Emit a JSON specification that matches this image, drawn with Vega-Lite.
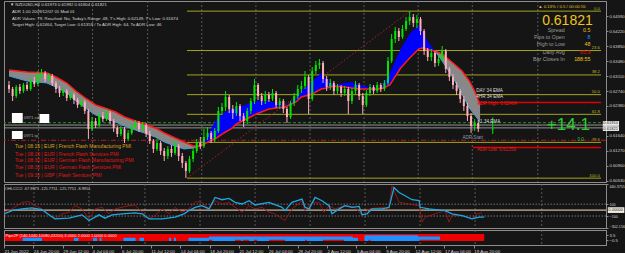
{
"$schema": "https://vega.github.io/schema/vega-lite/v6.json",
"background": "#151515",
"padding": {"left": 2, "top": 0, "right": 0, "bottom": 0},
"spacing": 2,
"bounds": "flush",
"config": {
 "view": {"stroke": "#8c8c8c", "strokeWidth": 1},
 "font": "Liberation Sans",
 "axis": {"grid": false, "labelFont": "Liberation Sans", "labelColor": "#d4d4d4", "labelFontSize": 4.2, "domainColor": "#8c8c8c", "tickColor": "#8c8c8c", "tickSize": 2, "labelPadding": 1, "labelOverlap": false},
 "text": {"font": "Liberation Sans"}
},
"datasets": {
 "g": [{"i":16.3},{"i":46.3},{"i":76.8},{"i":106.8},{"i":136.8},{"i":166.8},{"i":196.7},{"i":226.7},{"i":256.7},{"i":293}],
 "c": [
{"i":0,"o":0.62898,"h":0.62997,"l":0.62701,"c":0.62799},
{"i":2,"o":0.62799,"h":0.62849,"l":0.62503,"c":0.62627},
{"i":4,"o":0.62627,"h":0.62898,"l":0.62577,"c":0.62849},
{"i":6,"o":0.62849,"h":0.62923,"l":0.62676,"c":0.62750},
{"i":8,"o":0.62750,"h":0.62947,"l":0.62701,"c":0.62898},
{"i":10,"o":0.62898,"h":0.62972,"l":0.62750,"c":0.62799},
{"i":12,"o":0.62799,"h":0.63071,"l":0.62750,"c":0.62997},
{"i":14,"o":0.62997,"h":0.63095,"l":0.62849,"c":0.62923},
{"i":16,"o":0.62923,"h":0.63243,"l":0.62873,"c":0.63145},
{"i":18,"o":0.63145,"h":0.63293,"l":0.63071,"c":0.63194},
{"i":20,"o":0.63194,"h":0.63243,"l":0.62972,"c":0.63046},
{"i":22,"o":0.63046,"h":0.63194,"l":0.62997,"c":0.63120},
{"i":24,"o":0.63120,"h":0.63169,"l":0.62873,"c":0.62947},
{"i":26,"o":0.62947,"h":0.62997,"l":0.62701,"c":0.62799},
{"i":28,"o":0.62799,"h":0.62873,"l":0.62602,"c":0.62701},
{"i":30,"o":0.62701,"h":0.62824,"l":0.62627,"c":0.62750},
{"i":32,"o":0.62750,"h":0.62799,"l":0.62503,"c":0.62577},
{"i":34,"o":0.62577,"h":0.62725,"l":0.62528,"c":0.62651},
{"i":36,"o":0.62651,"h":0.62701,"l":0.62429,"c":0.62528},
{"i":38,"o":0.62528,"h":0.62577,"l":0.62331,"c":0.62405},
{"i":40,"o":0.62405,"h":0.62553,"l":0.62355,"c":0.62479},
{"i":42,"o":0.62479,"h":0.62528,"l":0.62183,"c":0.62257},
{"i":44,"o":0.62257,"h":0.62306,"l":0.61566,"c":0.61813},
{"i":46,"o":0.61813,"h":0.62109,"l":0.61763,"c":0.62010},
{"i":48,"o":0.62010,"h":0.62084,"l":0.61837,"c":0.61911},
{"i":50,"o":0.61911,"h":0.62207,"l":0.61862,"c":0.62133},
{"i":52,"o":0.62133,"h":0.62232,"l":0.61985,"c":0.62059},
{"i":54,"o":0.62059,"h":0.62306,"l":0.62010,"c":0.62207},
{"i":56,"o":0.62207,"h":0.62257,"l":0.61936,"c":0.62010},
{"i":58,"o":0.62010,"h":0.62059,"l":0.61739,"c":0.61837},
{"i":60,"o":0.61837,"h":0.61887,"l":0.61615,"c":0.61689},
{"i":62,"o":0.61689,"h":0.61887,"l":0.61640,"c":0.61813},
{"i":64,"o":0.61813,"h":0.61862,"l":0.61467,"c":0.61566},
{"i":66,"o":0.61566,"h":0.61788,"l":0.61517,"c":0.61714},
{"i":68,"o":0.61714,"h":0.61936,"l":0.61665,"c":0.61862},
{"i":70,"o":0.61862,"h":0.62035,"l":0.61813,"c":0.61961},
{"i":72,"o":0.61961,"h":0.62010,"l":0.61739,"c":0.61813},
{"i":74,"o":0.61813,"h":0.61985,"l":0.61763,"c":0.61911},
{"i":76,"o":0.61911,"h":0.61961,"l":0.61615,"c":0.61689},
{"i":78,"o":0.61689,"h":0.61763,"l":0.61443,"c":0.61517},
{"i":80,"o":0.61517,"h":0.61566,"l":0.61221,"c":0.61319},
{"i":82,"o":0.61319,"h":0.61566,"l":0.61270,"c":0.61467},
{"i":84,"o":0.61467,"h":0.61517,"l":0.61171,"c":0.61270},
{"i":86,"o":0.61270,"h":0.61344,"l":0.61023,"c":0.61147},
{"i":88,"o":0.61147,"h":0.61393,"l":0.61073,"c":0.61319},
{"i":90,"o":0.61319,"h":0.61418,"l":0.61122,"c":0.61221},
{"i":92,"o":0.61221,"h":0.61517,"l":0.61171,"c":0.61393},
{"i":94,"o":0.61393,"h":0.61443,"l":0.61023,"c":0.61147},
{"i":96,"o":0.61147,"h":0.61221,"l":0.60851,"c":0.60974},
{"i":98,"o":0.60974,"h":0.61023,"l":0.60604,"c":0.60777},
{"i":100,"o":0.60777,"h":0.61147,"l":0.60727,"c":0.61073},
{"i":102,"o":0.61073,"h":0.61344,"l":0.60999,"c":0.61270},
{"i":104,"o":0.61270,"h":0.61566,"l":0.61221,"c":0.61467},
{"i":106,"o":0.61467,"h":0.61615,"l":0.61319,"c":0.61393},
{"i":108,"o":0.61393,"h":0.61813,"l":0.61344,"c":0.61615},
{"i":110,"o":0.61615,"h":0.61862,"l":0.61541,"c":0.61714},
{"i":112,"o":0.61714,"h":0.61763,"l":0.61467,"c":0.61566},
{"i":114,"o":0.61566,"h":0.61837,"l":0.61492,"c":0.61763},
{"i":116,"o":0.61763,"h":0.62355,"l":0.61714,"c":0.62257},
{"i":118,"o":0.62257,"h":0.62454,"l":0.62158,"c":0.62355},
{"i":120,"o":0.62355,"h":0.62750,"l":0.62257,"c":0.62602},
{"i":122,"o":0.62602,"h":0.62651,"l":0.62207,"c":0.62306},
{"i":124,"o":0.62306,"h":0.62405,"l":0.62059,"c":0.62207},
{"i":126,"o":0.62207,"h":0.62479,"l":0.62133,"c":0.62380},
{"i":128,"o":0.62380,"h":0.62429,"l":0.62010,"c":0.62133},
{"i":130,"o":0.62133,"h":0.62207,"l":0.61862,"c":0.62010},
{"i":132,"o":0.62010,"h":0.62331,"l":0.61936,"c":0.62257},
{"i":134,"o":0.62257,"h":0.62577,"l":0.62183,"c":0.62503},
{"i":136,"o":0.62503,"h":0.63046,"l":0.62429,"c":0.62898},
{"i":138,"o":0.62898,"h":0.62947,"l":0.62528,"c":0.62627},
{"i":140,"o":0.62627,"h":0.62701,"l":0.62405,"c":0.62503},
{"i":142,"o":0.62503,"h":0.62750,"l":0.62429,"c":0.62651},
{"i":144,"o":0.62651,"h":0.62725,"l":0.62479,"c":0.62553},
{"i":146,"o":0.62553,"h":0.62799,"l":0.62503,"c":0.62701},
{"i":148,"o":0.62701,"h":0.62750,"l":0.62331,"c":0.62405},
{"i":150,"o":0.62405,"h":0.62577,"l":0.62306,"c":0.62503},
{"i":152,"o":0.62503,"h":0.62553,"l":0.62207,"c":0.62306},
{"i":154,"o":0.62306,"h":0.62355,"l":0.61961,"c":0.62109},
{"i":156,"o":0.62109,"h":0.62503,"l":0.62059,"c":0.62454},
{"i":158,"o":0.62454,"h":0.62701,"l":0.62380,"c":0.62627},
{"i":160,"o":0.62627,"h":0.62898,"l":0.62553,"c":0.62799},
{"i":162,"o":0.62799,"h":0.62997,"l":0.62701,"c":0.62873},
{"i":164,"o":0.62873,"h":0.63243,"l":0.62799,"c":0.63095},
{"i":166,"o":0.63095,"h":0.63145,"l":0.62183,"c":0.62553},
{"i":168,"o":0.62553,"h":0.63342,"l":0.62503,"c":0.63243},
{"i":170,"o":0.63243,"h":0.63490,"l":0.63169,"c":0.63391},
{"i":172,"o":0.63391,"h":0.63539,"l":0.63293,"c":0.63441},
{"i":174,"o":0.63441,"h":0.63490,"l":0.62947,"c":0.63046},
{"i":176,"o":0.63046,"h":0.63120,"l":0.62750,"c":0.62849},
{"i":178,"o":0.62849,"h":0.63046,"l":0.62775,"c":0.62947},
{"i":180,"o":0.62947,"h":0.62997,"l":0.62651,"c":0.62750},
{"i":182,"o":0.62750,"h":0.62923,"l":0.62676,"c":0.62849},
{"i":184,"o":0.62849,"h":0.62898,"l":0.62602,"c":0.62701},
{"i":186,"o":0.62701,"h":0.62873,"l":0.62627,"c":0.62799},
{"i":188,"o":0.62799,"h":0.62849,"l":0.62183,"c":0.62503},
{"i":190,"o":0.62503,"h":0.62824,"l":0.62429,"c":0.62750},
{"i":192,"o":0.62750,"h":0.62997,"l":0.62676,"c":0.62898},
{"i":194,"o":0.62898,"h":0.62947,"l":0.62528,"c":0.62627},
{"i":196,"o":0.62627,"h":0.62701,"l":0.62183,"c":0.62405},
{"i":198,"o":0.62405,"h":0.62775,"l":0.62355,"c":0.62701},
{"i":200,"o":0.62701,"h":0.62923,"l":0.62627,"c":0.62849},
{"i":202,"o":0.62849,"h":0.62898,"l":0.62676,"c":0.62750},
{"i":204,"o":0.62750,"h":0.62972,"l":0.62701,"c":0.62898},
{"i":206,"o":0.62898,"h":0.62947,"l":0.62725,"c":0.62799},
{"i":208,"o":0.62799,"h":0.63021,"l":0.62750,"c":0.62947},
{"i":210,"o":0.62947,"h":0.63589,"l":0.62898,"c":0.63490},
{"i":212,"o":0.63490,"h":0.64156,"l":0.63441,"c":0.64033},
{"i":214,"o":0.64033,"h":0.64329,"l":0.63934,"c":0.64230},
{"i":216,"o":0.64230,"h":0.64304,"l":0.63983,"c":0.64082},
{"i":218,"o":0.64082,"h":0.64378,"l":0.64033,"c":0.64279},
{"i":220,"o":0.64279,"h":0.64575,"l":0.64230,"c":0.64477},
{"i":222,"o":0.64477,"h":0.64723,"l":0.64378,"c":0.64575},
{"i":224,"o":0.64575,"h":0.64649,"l":0.64329,"c":0.64427},
{"i":226,"o":0.64427,"h":0.64625,"l":0.64304,"c":0.64526},
{"i":228,"o":0.64526,"h":0.64575,"l":0.64131,"c":0.64230},
{"i":230,"o":0.64230,"h":0.64279,"l":0.63638,"c":0.63737},
{"i":232,"o":0.63737,"h":0.63811,"l":0.63490,"c":0.63589},
{"i":234,"o":0.63589,"h":0.63786,"l":0.63490,"c":0.63687},
{"i":236,"o":0.63687,"h":0.63737,"l":0.63342,"c":0.63441},
{"i":238,"o":0.63441,"h":0.63613,"l":0.63367,"c":0.63539},
{"i":240,"o":0.63539,"h":0.63860,"l":0.63490,"c":0.63737},
{"i":242,"o":0.63737,"h":0.63786,"l":0.63194,"c":0.63293},
{"i":244,"o":0.63293,"h":0.63342,"l":0.62997,"c":0.63095},
{"i":246,"o":0.63095,"h":0.63169,"l":0.62799,"c":0.62898},
{"i":248,"o":0.62898,"h":0.62972,"l":0.62651,"c":0.62750},
{"i":250,"o":0.62750,"h":0.62799,"l":0.62454,"c":0.62553},
{"i":252,"o":0.62553,"h":0.62627,"l":0.62257,"c":0.62380},
{"i":254,"o":0.62380,"h":0.62454,"l":0.62010,"c":0.62133},
{"i":256,"o":0.62133,"h":0.62207,"l":0.61714,"c":0.61887},
{"i":258,"o":0.61887,"h":0.62059,"l":0.61763,"c":0.61961},
{"i":260,"o":0.61961,"h":0.62035,"l":0.61739,"c":0.61821},
{"i":268,"o":0.61800,"h":0.62100,"l":0.61689,"c":0.61821}
 ],
 "e": [
{"i":0,"r":0.63268,"b":0.63120,"s":"d1"},
{"i":10,"r":0.63219,"b":0.62997,"s":"d1"},
{"i":21,"r":0.63194,"b":0.62947,"s":"d1"},
{"i":26,"r":0.63095,"b":0.62849,"s":"d1"},
{"i":32,"r":0.62947,"b":0.62701,"s":"d1"},
{"i":37,"r":0.62750,"b":0.62503,"s":"d1"},
{"i":43,"r":0.62553,"b":0.62306,"s":"d1"},
{"i":48,"r":0.62405,"b":0.62158,"s":"d1"},
{"i":53,"r":0.62331,"b":0.62084,"s":"d1"},
{"i":59,"r":0.62232,"b":0.61985,"s":"d1"},
{"i":64,"r":0.62109,"b":0.61887,"s":"d1"},
{"i":70,"r":0.62010,"b":0.61788,"s":"d1"},
{"i":75,"r":0.61936,"b":0.61714,"s":"d1"},
{"i":81,"r":0.61837,"b":0.61615,"s":"d1"},
{"i":86,"r":0.61714,"b":0.61492,"s":"d1"},
{"i":92,"r":0.61591,"b":0.61393,"s":"d1"},
{"i":97,"r":0.61492,"b":0.61319,"s":"d1"},
{"i":102,"r":0.61393,"b":0.61344,"s":"d1"},
{"i":106,"r":0.61393,"b":0.61393,"s":"d1"},
{"i":106,"r":0.61393,"b":0.61393,"s":"u"},
{"i":108,"r":0.61443,"b":0.61492,"s":"u"},
{"i":115,"r":0.61591,"b":0.62059,"s":"u"},
{"i":119,"r":0.61714,"b":0.62207,"s":"u"},
{"i":123,"r":0.61813,"b":0.62306,"s":"u"},
{"i":126,"r":0.61936,"b":0.62331,"s":"u"},
{"i":137,"r":0.62183,"b":0.62503,"s":"u"},
{"i":144,"r":0.62306,"b":0.62503,"s":"u"},
{"i":148,"r":0.62331,"b":0.62454,"s":"u"},
{"i":153,"r":0.62355,"b":0.62380,"s":"u"},
{"i":159,"r":0.62479,"b":0.62577,"s":"u"},
{"i":162,"r":0.62602,"b":0.62750,"s":"u"},
{"i":168,"r":0.62676,"b":0.62997,"s":"u"},
{"i":173,"r":0.62799,"b":0.63194,"s":"u"},
{"i":176,"r":0.62824,"b":0.63046,"s":"u"},
{"i":180,"r":0.62873,"b":0.62898,"s":"u"},
{"i":186,"r":0.62849,"b":0.62947,"s":"u"},
{"i":190,"r":0.62824,"b":0.62972,"s":"u"},
{"i":194,"r":0.62799,"b":0.62898,"s":"u"},
{"i":200,"r":0.62799,"b":0.62849,"s":"u"},
{"i":206,"r":0.62799,"b":0.62824,"s":"u"},
{"i":211,"r":0.62898,"b":0.63194,"s":"u"},
{"i":217,"r":0.63317,"b":0.63786,"s":"u"},
{"i":222,"r":0.63564,"b":0.64156,"s":"u"},
{"i":227,"r":0.63786,"b":0.64378,"s":"u"},
{"i":229,"r":0.63811,"b":0.64230,"s":"u"},
{"i":233,"r":0.63761,"b":0.63909,"s":"u"},
{"i":236,"r":0.63737,"b":0.63737,"s":"u"},
{"i":236,"r":0.63737,"b":0.63737,"s":"d2"},
{"i":240,"r":0.63663,"b":0.63490,"s":"d2"},
{"i":246,"r":0.63441,"b":0.63071,"s":"d2"},
{"i":251,"r":0.63243,"b":0.62676,"s":"d2"},
{"i":255,"r":0.62997,"b":0.62331,"s":"d2"},
{"i":258,"r":0.62750,"b":0.62158,"s":"d2"},
{"i":261,"r":0.62405,"b":0.61985,"s":"d2"}
 ],
 "f": [
{"i0":98.6,"i1":328,"p":0.64720,"lv":"0.0"},
{"i0":98.6,"i1":328,"p":0.63748,"lv":"23.6"},
{"i0":98.6,"i1":328,"p":0.63146,"lv":"38.2"},
{"i0":98.6,"i1":328,"p":0.62660,"lv":"50.0"},
{"i0":98.6,"i1":328,"p":0.62174,"lv":"61.8"},
{"i0":98.6,"i1":328,"p":0.61482,"lv":"78.6"},
{"i0":98.6,"i1":328,"p":0.60600,"lv":"100.0"}
 ],
 "h": [
{"p":0.61910,"k":"gray"},{"p":0.61840,"k":"gray"},{"p":0.61968,"k":"gdash"},{"p":0.61534,"k":"rdash"}
 ],
 "a": [{"i0":257,"i1":328,"p":0.62464},{"i0":257,"i1":328,"p":0.61359}],
 "d": [{"i0":98.6,"p0":0.60604,"i1":222.3,"p1":0.64723}],
 "ob": [{"i0":1.6,"i1":7.6,"lo":0.61961,"hi":0.62207},{"i0":16.9,"i1":22.3,"lo":0.61961,"hi":0.62183},{"i0":1.6,"i1":7.6,"lo":0.61566,"hi":0.61763}],
 "bx": [{"i0":329,"i1":338,"lo":0.61890,"hi":0.62010,"p":0.61950,"t":"0.61910"},{"i0":329,"i1":338,"lo":0.61764,"hi":0.61882,"p":0.61823,"t":"0.61821"}],
 "t": [
{"i":0.5,"p":0.64859,"t":"▼ NZDUSD,H4  0.61973 0.61992 0.61804 0.61821","k":"info"},
{"i":1.6,"p":0.64699,"t":"ADR 1.00 2009/12/07 01 Mod 01","k":"info"},
{"i":1.6,"p":0.64538,"t":"ADR Values: 79, Reached: No, Today's Range: 48, T's High: 0.62149, T's Low: 0.61674","k":"info"},
{"i":1.6,"p":0.64378,"t":"Target High: 0.62464, Target Low: 0.61359 / To ADR High: 64, To ADR Low: 46","k":"info"},
{"i":8.2,"p":0.62084,"t":"0971.sd","k":"ord"},
{"i":8.2,"p":0.61652,"t":"0971.tp","k":"ord"},
{"i":293.2,"p":0.64810,"t":"▲ 0.13% / 0.5 / 00:00:55","k":"hdr"},
{"i":3.3,"p":0.61381,"t":"Tue | 08:15 | EUR | French Flash Manufacturing PMI","k":"ev1"},
{"i":3.3,"p":0.61208,"t":"Tue | 08:15 | EUR | French Flash Services PMI","k":"ev"},
{"i":3.3,"p":0.61036,"t":"Tue | 08:30 | EUR | German Flash Manufacturing PMI","k":"ev"},
{"i":3.3,"p":0.60863,"t":"Tue | 08:30 | EUR | German Flash Services PMI","k":"ev"},
{"i":3.3,"p":0.60690,"t":"Tue | 09:30 | GBP | Flash Services PMI","k":"ev"},
{"i":258.9,"p":0.62762,"t":"DAY 34 EMA","k":"ema"},
{"i":258.9,"p":0.62590,"t":"4HR 34 EMA","k":"ema"},
{"i":259.4,"p":0.62429,"t":"ADR High: 0.62464","k":"adr"},
{"i":261,"p":0.61985,"t":"1 34 EMA","k":"ema"},
{"i":251.2,"p":0.61591,"t":"ADR Start","k":"adrs"},
{"i":259.4,"p":0.61295,"t":"ADR Low: 0.61359","k":"adr"},
{"i":315,"p":0.61541,"t":"0.0","k":"g0"},
{"i":298,"p":0.61911,"t":"+14.1","k":"big"},
{"i":295.4,"p":0.64477,"t":"0.61821","k":"price"},
{"i":307.9,"p":0.64255,"t":"Spread","k":"lab"},
{"i":307.9,"p":0.64082,"t":"Pips to Open","k":"lab"},
{"i":307.9,"p":0.63909,"t":"High to Low","k":"lab"},
{"i":307.9,"p":0.63712,"t":"Daily Avg","k":"lab"},
{"i":307.9,"p":0.63539,"t":"Bar Closes In","k":"lab"},
{"i":322.1,"p":0.64255,"t":"0.5","k":"vy"},
{"i":322.1,"p":0.64082,"t":"8","k":"vb"},
{"i":322.1,"p":0.63909,"t":"48","k":"vy"},
{"i":322.1,"p":0.63712,"t":"65.9","k":"vr"},
{"i":322.1,"p":0.63539,"t":"188:55","k":"vy"}
 ],
 "k": [
{"i":0,"v":-63,"s":"b"},{"i":4.4,"v":-8,"s":"b"},{"i":9.8,"v":20,"s":"b"},{"i":15.3,"v":37,"s":"b"},{"i":20.7,"v":8,"s":"b"},{"i":24.5,"v":-80,"s":"b"},{"i":27.8,"v":-147,"s":"b"},{"i":35.4,"v":-136,"s":"b"},{"i":42.5,"v":-80,"s":"b"},{"i":46.3,"v":-175,"s":"b"},{"i":51.8,"v":-80,"s":"b"},{"i":55,"v":-136,"s":"b"},{"i":58.9,"v":-80,"s":"b"},{"i":64.3,"v":-63,"s":"b"},{"i":71.4,"v":-47,"s":"b"},{"i":75.2,"v":-63,"s":"b"},{"i":79,"v":-147,"s":"b"},{"i":86.1,"v":-147,"s":"b"},{"i":93.2,"v":-120,"s":"b"},{"i":98.1,"v":-63,"s":"b"},{"i":100.8,"v":-8,"s":"b"},{"i":104.1,"v":47,"s":"b"},{"i":107.9,"v":75,"s":"b"},{"i":111.7,"v":20,"s":"b"},{"i":115,"v":213,"s":"b"},{"i":118.8,"v":175,"s":"b"},{"i":122.6,"v":197,"s":"b"},{"i":125.9,"v":130,"s":"b"},{"i":129.7,"v":103,"s":"b"},{"i":133.5,"v":158,"s":"b"},{"i":136.8,"v":87,"s":"b"},{"i":144.4,"v":130,"s":"b"},{"i":151.5,"v":47,"s":"b"},{"i":153.1,"v":-8,"s":"b"},{"i":156.9,"v":130,"s":"b"},{"i":162.4,"v":187,"s":"b"},{"i":164,"v":47,"s":"b"},{"i":166.2,"v":20,"s":"b"},{"i":169.5,"v":213,"s":"b"},{"i":173.3,"v":158,"s":"b"},{"i":177.1,"v":75,"s":"b"},{"i":178.7,"v":-63,"s":"b"},{"i":182.6,"v":20,"s":"b"},{"i":185.8,"v":75,"s":"b"},{"i":189.6,"v":47,"s":"b"},{"i":193.5,"v":63,"s":"b"},{"i":195.1,"v":-80,"s":"b"},{"i":197.8,"v":-63,"s":"b"},{"i":200.5,"v":20,"s":"b"},{"i":206,"v":20,"s":"b"},{"i":209.8,"v":47,"s":"b"},{"i":212.5,"v":380,"s":"b"},{"i":215.3,"v":297,"s":"b"},{"i":218.5,"v":242,"s":"b"},{"i":222.3,"v":175,"s":"b"},{"i":226.2,"v":160,"s":"b"},{"i":226.7,"v":47,"s":"b"},{"i":231.6,"v":20,"s":"b"},{"i":234.9,"v":8,"s":"b"},{"i":240.3,"v":-8,"s":"b"},{"i":244.1,"v":-63,"s":"b"},{"i":249.6,"v":-92,"s":"b"},{"i":255,"v":-147,"s":"b"},{"i":258.9,"v":-120,"s":"b"},{"i":261.6,"v":-120,"s":"b"},
{"i":0,"v":-37,"s":"r"},{"i":4.4,"v":20,"s":"r"},{"i":9.8,"v":130,"s":"r"},{"i":13.6,"v":142,"s":"r"},{"i":16.9,"v":75,"s":"r"},{"i":20.7,"v":20,"s":"r"},{"i":24.5,"v":-80,"s":"r"},{"i":27.8,"v":-147,"s":"r"},{"i":31.6,"v":-63,"s":"r"},{"i":35.4,"v":-37,"s":"r"},{"i":38.7,"v":75,"s":"r"},{"i":42.5,"v":20,"s":"r"},{"i":46.3,"v":-147,"s":"r"},{"i":49.6,"v":20,"s":"r"},{"i":53.4,"v":47,"s":"r"},{"i":57.2,"v":-63,"s":"r"},{"i":60.5,"v":20,"s":"r"},{"i":68.1,"v":75,"s":"r"},{"i":71.4,"v":87,"s":"r"},{"i":75.2,"v":-37,"s":"r"},{"i":79,"v":-147,"s":"r"},{"i":82.3,"v":-92,"s":"r"},{"i":86.1,"v":20,"s":"r"},{"i":89.9,"v":-63,"s":"r"},{"i":93.2,"v":47,"s":"r"},{"i":97,"v":-37,"s":"r"},{"i":100.8,"v":20,"s":"r"},{"i":104.1,"v":142,"s":"r"},{"i":107.9,"v":130,"s":"r"},{"i":111.7,"v":20,"s":"r"},{"i":115,"v":158,"s":"r"},{"i":118.8,"v":103,"s":"r"},{"i":122.6,"v":130,"s":"r"},{"i":125.9,"v":47,"s":"r"},{"i":129.7,"v":-37,"s":"r"},{"i":133.5,"v":75,"s":"r"},{"i":136.8,"v":20,"s":"r"},{"i":140.6,"v":47,"s":"r"},{"i":144.4,"v":-37,"s":"r"},{"i":147.7,"v":-63,"s":"r"},{"i":151.5,"v":-147,"s":"r"},{"i":153.1,"v":-175,"s":"r"},{"i":156.9,"v":20,"s":"r"},{"i":162.4,"v":158,"s":"r"},{"i":164,"v":-8,"s":"r"},{"i":167.8,"v":130,"s":"r"},{"i":171.7,"v":130,"s":"r"},{"i":174.4,"v":-37,"s":"r"},{"i":177.1,"v":75,"s":"r"},{"i":180.4,"v":20,"s":"r"},{"i":185.8,"v":75,"s":"r"},{"i":191.3,"v":47,"s":"r"},{"i":195.1,"v":-92,"s":"r"},{"i":198.9,"v":20,"s":"r"},{"i":206,"v":47,"s":"r"},{"i":209.8,"v":20,"s":"r"},{"i":211.4,"v":408,"s":"r"},{"i":215.3,"v":130,"s":"r"},{"i":220.7,"v":103,"s":"r"},{"i":226.2,"v":75,"s":"r"},{"i":227.8,"v":-203,"s":"r"},{"i":229.4,"v":-120,"s":"r"},{"i":234.9,"v":-63,"s":"r"},{"i":240.3,"v":-8,"s":"r"},{"i":242.5,"v":-203,"s":"r"},{"i":244.1,"v":-92,"s":"r"},{"i":249.6,"v":-92,"s":"r"},{"i":255,"v":-147,"s":"r"},{"i":257.8,"v":-63,"s":"r"},{"i":260.5,"v":-47,"s":"r"}
 ],
 "cl": [{"v":100,"k":"dot"},{"v":-100,"k":"dot"},{"v":0,"k":"zero"}],
 "ct": [{"i":0.5,"v":356,"t":"OHLCCCI -67.9973 -125.7751 -125.7751 -8.9951"}],
 "cb": [{"i0":329,"i1":338,"lo":-48,"hi":48,"v":0,"t":"0.00000"}],
 "p": [
{"r":3,"a":0.5,"z":261.6,"c":"r"},{"r":2,"a":0.5,"z":261.6,"c":"r"},{"r":1,"a":0.5,"z":261.6,"c":"r"},{"r":0,"a":0.5,"z":261.6,"c":"r"},
{"r":2,"a":196.5,"z":225.6,"c":"b"},
{"r":1,"a":111.7,"z":190,"c":"b"},{"r":1,"a":196.5,"z":237.6,"c":"b"},
{"r":0,"a":10.2,"z":20.7,"c":"b"},{"r":0,"a":38.1,"z":40.6,"c":"b"},{"r":0,"a":48.5,"z":50.7,"c":"b"},{"r":0,"a":52.1,"z":53.2,"c":"b"},{"r":0,"a":65.1,"z":71.7,"c":"b"},{"r":0,"a":73.8,"z":76.3,"c":"b"},{"r":0,"a":89.9,"z":91,"c":"b"},{"r":0,"a":92.6,"z":93.7,"c":"b"},{"r":0,"a":100.5,"z":111.7,"c":"b"},{"r":0,"a":113.4,"z":125.9,"c":"b"},{"r":0,"a":129.2,"z":130.2,"c":"b"},{"r":0,"a":133.5,"z":136.2,"c":"b"},{"r":0,"a":137.9,"z":144.4,"c":"b"},{"r":0,"a":153.1,"z":164,"c":"b"},{"r":0,"a":165.1,"z":173.8,"c":"b"},{"r":0,"a":185.3,"z":192.9,"c":"b"},{"r":0,"a":196.5,"z":198.6,"c":"b"},{"r":0,"a":199.7,"z":226.4,"c":"b"}
 ],
 "pt": [{"i":0.8,"r":3,"t":"Pipe2P (140,1440,10080,43200) 3.0000 2.0000 1.0000 0.0000"}]
},
"vconcat": [
{
 "width": 602, "height": 181,
 "resolve": {"axis": {"x": "independent", "y": "independent"}},
 "layer": [
  {"data": {"name": "g"}, "mark": {"type": "rule", "color": "#6a6a6a", "strokeDash": [2,2], "strokeWidth": 0.8},
   "encoding": {"x": {"field": "i", "type": "quantitative", "scale": {"domain": [0,328], "nice": false, "zero": false}, "axis": null}}},
  {"data": {"name": "f"}, "mark": {"type": "rule", "color": "#a5a51e", "strokeWidth": 1},
   "encoding": {"x": {"field": "i0", "type": "quantitative", "axis": null}, "x2": {"field": "i1"},
    "y": {"field": "p", "type": "quantitative", "scale": {"domain": [0.60505, 0.6497], "nice": false, "zero": false},
     "axis": {"orient": "right", "title": null, "values": [0.6459,0.6422,0.6385,0.6348,0.6311,0.6274,0.6238,0.6164,0.6127,0.609,0.6053], "format": ".5f", "labelFlush": false}}}},
  {"data": {"name": "f"}, "mark": {"type": "text", "align": "right", "baseline": "bottom", "dx": -1, "dy": -0.5, "fontSize": 4.3, "color": "#b8b82a"},
   "encoding": {"x": {"field": "i1", "type": "quantitative", "axis": null}, "y": {"field": "p", "type": "quantitative", "axis": null}, "text": {"field": "lv"}}},
  {"data": {"name": "h"}, "transform": [{"filter": "datum.k == 'gray'"}], "mark": {"type": "rule", "color": "#b4b4b4", "strokeWidth": 0.8},
   "encoding": {"y": {"field": "p", "type": "quantitative", "axis": null}}},
  {"data": {"name": "h"}, "transform": [{"filter": "datum.k == 'gdash'"}], "mark": {"type": "rule", "color": "#2e8b2e", "strokeWidth": 1, "strokeDash": [3,2]},
   "encoding": {"y": {"field": "p", "type": "quantitative", "axis": null}}},
  {"data": {"name": "h"}, "transform": [{"filter": "datum.k == 'rdash'"}], "mark": {"type": "rule", "color": "#b41e1e", "strokeWidth": 1, "strokeDash": [5,2,1,2]},
   "encoding": {"y": {"field": "p", "type": "quantitative", "axis": null}}},
  {"data": {"name": "a"}, "mark": {"type": "rule", "color": "#e00000", "strokeWidth": 1.5},
   "encoding": {"x": {"field": "i0", "type": "quantitative", "axis": null}, "x2": {"field": "i1"}, "y": {"field": "p", "type": "quantitative", "axis": null}}},
  {"data": {"name": "d"}, "mark": {"type": "rule", "color": "#b01e1e", "strokeWidth": 1, "strokeDash": [1.5,2]},
   "encoding": {"x": {"field": "i0", "type": "quantitative", "axis": null}, "x2": {"field": "i1"}, "y": {"field": "p0", "type": "quantitative", "axis": null}, "y2": {"field": "p1"}}},
  {"data": {"name": "e"}, "transform": [{"filter": "datum.s != 'u'"}], "mark": {"type": "area", "color": "#888888", "opacity": 1, "clip": true},
   "encoding": {"x": {"field": "i", "type": "quantitative", "axis": null}, "y": {"field": "r", "type": "quantitative", "axis": null}, "y2": {"field": "b"}, "detail": {"field": "s"}}},
  {"data": {"name": "e"}, "transform": [{"filter": "datum.s == 'u'"}], "mark": {"type": "area", "color": "#0000ff", "opacity": 1, "clip": true},
   "encoding": {"x": {"field": "i", "type": "quantitative", "axis": null}, "y": {"field": "r", "type": "quantitative", "axis": null}, "y2": {"field": "b"}}},
  {"data": {"name": "e"}, "transform": [{"filter": "datum.s != 'u'"}], "mark": {"type": "line", "color": "#3fa0e0", "strokeWidth": 1, "clip": true},
   "encoding": {"x": {"field": "i", "type": "quantitative", "axis": null}, "y": {"field": "b", "type": "quantitative", "axis": null}, "detail": {"field": "s"}}},
  {"data": {"name": "e"}, "mark": {"type": "line", "color": "#ff1a1a", "strokeWidth": 1.5, "clip": true},
   "encoding": {"x": {"field": "i", "type": "quantitative", "axis": null}, "y": {"field": "r", "type": "quantitative", "axis": null}}},
  {"data": {"name": "c"}, "mark": {"type": "rule", "strokeWidth": 1, "clip": true},
   "encoding": {"x": {"field": "i", "type": "quantitative", "axis": null}, "y": {"field": "l", "type": "quantitative", "axis": null}, "y2": {"field": "h"},
    "color": {"condition": {"test": "datum.c >= datum.o", "value": "#00e600"}, "value": "#ffb0b8"}}},
  {"data": {"name": "c"}, "mark": {"type": "bar", "size": 2, "orient": "vertical", "clip": true},
   "encoding": {"x": {"field": "i", "type": "quantitative", "axis": null}, "y": {"field": "o", "type": "quantitative", "axis": null}, "y2": {"field": "c"},
    "color": {"condition": {"test": "datum.c >= datum.o", "value": "#00e600"}, "value": "#ffb0b8"}}},
  {"data": {"name": "ob"}, "mark": {"type": "rect", "color": "#ffffff"},
   "encoding": {"x": {"field": "i0", "type": "quantitative", "axis": null}, "x2": {"field": "i1"}, "y": {"field": "lo", "type": "quantitative", "axis": null}, "y2": {"field": "hi"}}},
  {"data": {"name": "t"}, "transform": [{"filter": {"field": "k", "oneOf": ["info","ord","hdr"]}}],
   "mark": {"type": "text", "align": "left", "baseline": "middle", "fontSize": 4.3},
   "encoding": {"x": {"field": "i", "type": "quantitative", "axis": null}, "y": {"field": "p", "type": "quantitative", "axis": null}, "text": {"field": "t"},
    "color": {"field": "k", "type": "nominal", "legend": null, "scale": {"domain": ["info","ord","hdr","ev1","ev","ema","adr","adrs","g0","big","price","lab","vy","vb","vr"], "range": ["#d6d6d6","#a8a8a8","#e8c020","#d9a21e","#e01515","#dcdcdc","#e01e1e","#8c9cb4","#2ecc2e","#2ecc2e","#f2c318","#9c9c9c","#eec21a","#1e90ff","#e01010"]}}}},
  {"data": {"name": "t"}, "transform": [{"filter": {"field": "k", "oneOf": ["ev1","ev"]}}],
   "mark": {"type": "text", "align": "left", "baseline": "middle", "fontSize": 5},
   "encoding": {"x": {"field": "i", "type": "quantitative", "axis": null}, "y": {"field": "p", "type": "quantitative", "axis": null}, "text": {"field": "t"},
    "color": {"field": "k", "type": "nominal", "legend": null, "scale": {"domain": ["info","ord","hdr","ev1","ev","ema","adr","adrs","g0","big","price","lab","vy","vb","vr"], "range": ["#d6d6d6","#a8a8a8","#e8c020","#d9a21e","#e01515","#dcdcdc","#e01e1e","#8c9cb4","#2ecc2e","#2ecc2e","#f2c318","#9c9c9c","#eec21a","#1e90ff","#e01010"]}}}},
  {"data": {"name": "t"}, "transform": [{"filter": {"field": "k", "oneOf": ["ema","adr","adrs","g0"]}}],
   "mark": {"type": "text", "align": "left", "baseline": "middle", "fontSize": 4.6},
   "encoding": {"x": {"field": "i", "type": "quantitative", "axis": null}, "y": {"field": "p", "type": "quantitative", "axis": null}, "text": {"field": "t"},
    "color": {"field": "k", "type": "nominal", "legend": null, "scale": {"domain": ["info","ord","hdr","ev1","ev","ema","adr","adrs","g0","big","price","lab","vy","vb","vr"], "range": ["#d6d6d6","#a8a8a8","#e8c020","#d9a21e","#e01515","#dcdcdc","#e01e1e","#8c9cb4","#2ecc2e","#2ecc2e","#f2c318","#9c9c9c","#eec21a","#1e90ff","#e01010"]}}}},
  {"data": {"name": "t"}, "transform": [{"filter": {"field": "k", "oneOf": ["big"]}}],
   "mark": {"type": "text", "align": "left", "baseline": "middle", "fontSize": 17},
   "encoding": {"x": {"field": "i", "type": "quantitative", "axis": null}, "y": {"field": "p", "type": "quantitative", "axis": null}, "text": {"field": "t"},
    "color": {"field": "k", "type": "nominal", "legend": null, "scale": {"domain": ["info","ord","hdr","ev1","ev","ema","adr","adrs","g0","big","price","lab","vy","vb","vr"], "range": ["#d6d6d6","#a8a8a8","#e8c020","#d9a21e","#e01515","#dcdcdc","#e01e1e","#8c9cb4","#2ecc2e","#2ecc2e","#f2c318","#9c9c9c","#eec21a","#1e90ff","#e01010"]}}}},
  {"data": {"name": "t"}, "transform": [{"filter": {"field": "k", "oneOf": ["price"]}}],
   "mark": {"type": "text", "align": "left", "baseline": "middle", "fontSize": 14},
   "encoding": {"x": {"field": "i", "type": "quantitative", "axis": null}, "y": {"field": "p", "type": "quantitative", "axis": null}, "text": {"field": "t"},
    "color": {"field": "k", "type": "nominal", "legend": null, "scale": {"domain": ["info","ord","hdr","ev1","ev","ema","adr","adrs","g0","big","price","lab","vy","vb","vr"], "range": ["#d6d6d6","#a8a8a8","#e8c020","#d9a21e","#e01515","#dcdcdc","#e01e1e","#8c9cb4","#2ecc2e","#2ecc2e","#f2c318","#9c9c9c","#eec21a","#1e90ff","#e01010"]}}}},
  {"data": {"name": "t"}, "transform": [{"filter": {"field": "k", "oneOf": ["lab","vy","vb","vr"]}}],
   "mark": {"type": "text", "align": "right", "baseline": "middle", "fontSize": 5.3},
   "encoding": {"x": {"field": "i", "type": "quantitative", "axis": null}, "y": {"field": "p", "type": "quantitative", "axis": null}, "text": {"field": "t"},
    "color": {"field": "k", "type": "nominal", "legend": null, "scale": {"domain": ["info","ord","hdr","ev1","ev","ema","adr","adrs","g0","big","price","lab","vy","vb","vr"], "range": ["#d6d6d6","#a8a8a8","#e8c020","#d9a21e","#e01515","#dcdcdc","#e01e1e","#8c9cb4","#2ecc2e","#2ecc2e","#f2c318","#9c9c9c","#eec21a","#1e90ff","#e01010"]}}}},
  {"data": {"name": "bx"}, "mark": {"type": "rect", "color": "#ececec"},
   "encoding": {"x": {"field": "i0", "type": "quantitative", "axis": null}, "x2": {"field": "i1"}, "y": {"field": "lo", "type": "quantitative", "axis": null}, "y2": {"field": "hi"}}},
  {"data": {"name": "bx"}, "mark": {"type": "text", "align": "left", "baseline": "middle", "dx": 0.5, "fontSize": 4.1, "color": "#1a1a1a"},
   "encoding": {"x": {"field": "i0", "type": "quantitative", "axis": null}, "y": {"field": "p", "type": "quantitative", "axis": null}, "text": {"field": "t"}}}
 ]
},
{
 "width": 602, "height": 44,
 "resolve": {"axis": {"x": "independent", "y": "independent"}},
 "layer": [
  {"data": {"name": "g"}, "mark": {"type": "rule", "color": "#6a6a6a", "strokeDash": [2,2], "strokeWidth": 0.8},
   "encoding": {"x": {"field": "i", "type": "quantitative", "scale": {"domain": [0,328], "nice": false, "zero": false}, "axis": null}}},
  {"data": {"name": "cl"}, "transform": [{"filter": "datum.k == 'dot'"}], "mark": {"type": "rule", "color": "#8a8a8a", "strokeDash": [1.5,1.5], "strokeWidth": 0.8},
   "encoding": {"y": {"field": "v", "type": "quantitative", "scale": {"domain": [-302.156, 440.3755], "nice": false, "zero": false},
    "axis": {"orient": "right", "title": null, "values": [440.3755, 100, -100, -302.156], "format": ".4~f", "labelFlush": true, "labelFontSize": 3.7}}}},
  {"data": {"name": "cl"}, "transform": [{"filter": "datum.k == 'zero'"}], "mark": {"type": "rule", "color": "#cdb49c", "strokeWidth": 1.3},
   "encoding": {"y": {"field": "v", "type": "quantitative", "axis": null}}},
  {"data": {"name": "k"}, "transform": [{"filter": "datum.s == 'r'"}], "mark": {"type": "line", "color": "#a01414", "strokeWidth": 0.9, "clip": true},
   "encoding": {"x": {"field": "i", "type": "quantitative", "axis": null}, "y": {"field": "v", "type": "quantitative", "axis": null}}},
  {"data": {"name": "k"}, "transform": [{"filter": "datum.s == 'b'"}], "mark": {"type": "line", "color": "#1ea7e1", "strokeWidth": 1.3, "clip": true},
   "encoding": {"x": {"field": "i", "type": "quantitative", "axis": null}, "y": {"field": "v", "type": "quantitative", "axis": null}}},
  {"data": {"name": "ct"}, "mark": {"type": "text", "align": "left", "baseline": "middle", "fontSize": 3.9, "color": "#d0d0d0"},
   "encoding": {"x": {"field": "i", "type": "quantitative", "axis": null}, "y": {"field": "v", "type": "quantitative", "axis": null}, "text": {"field": "t"}}},
  {"data": {"name": "cb"}, "mark": {"type": "rect", "color": "#f2ebe2"},
   "encoding": {"x": {"field": "i0", "type": "quantitative", "axis": null}, "x2": {"field": "i1"}, "y": {"field": "lo", "type": "quantitative", "axis": null}, "y2": {"field": "hi"}}},
  {"data": {"name": "cb"}, "mark": {"type": "text", "align": "left", "baseline": "middle", "dx": 0.5, "fontSize": 4.1, "color": "#1a1a1a"},
   "encoding": {"x": {"field": "i0", "type": "quantitative", "axis": null}, "y": {"field": "v", "type": "quantitative", "axis": null}, "text": {"field": "t"}}}
 ]
},
{
 "width": 602, "height": 15,
 "resolve": {"axis": {"x": "independent", "y": "independent"}},
 "layer": [
  {"data": {"name": "g"}, "mark": {"type": "rule", "color": "#6a6a6a", "strokeDash": [2,2], "strokeWidth": 0.8},
   "encoding": {"x": {"field": "i", "type": "quantitative", "scale": {"domain": [0,328], "nice": false, "zero": false},
    "axis": {"orient": "bottom", "title": null, "tickSize": 3, "values": [0,16,32,48,64,80,96,112,128,144,160,176,192,208,224,240,256], "labelAlign": "left", "labelFlush": false, "labelPadding": 1, "labelFontSize": 4.4,
     "labelExpr": "['21 Jun 2022','24 Jun 20:00','29 Jun 12:00','4 Jul 04:00','6 Jul 20:00','11 Jul 12:00','14 Jul 04:00','18 Jul 20:00','21 Jul 12:00','26 Jul 04:00','28 Jul 20:00','2 Aug 12:00','5 Aug 04:00','9 Aug 20:00','12 Aug 12:00','17 Aug 04:00','19 Aug 20:00'][round(datum.value/16)]"}}}},
  {"data": {"name": "p"}, "transform": [{"filter": "datum.c == 'r'"}], "mark": {"type": "bar", "orient": "horizontal", "size": 3.2, "color": "#f00000", "clip": true},
   "encoding": {"x": {"field": "a", "type": "quantitative", "axis": null}, "x2": {"field": "z"},
    "y": {"field": "r", "type": "quantitative", "scale": {"domain": [-0.5, 3.5], "nice": false, "zero": false},
     "axis": {"orient": "right", "title": null, "values": [3.5, -0.5], "format": ".1f", "labelFlush": true}}}},
  {"data": {"name": "p"}, "transform": [{"filter": "datum.c == 'b'"}], "mark": {"type": "bar", "orient": "horizontal", "size": 3.2, "color": "#1e90ff", "clip": true},
   "encoding": {"x": {"field": "a", "type": "quantitative", "axis": null}, "x2": {"field": "z"}, "y": {"field": "r", "type": "quantitative", "axis": null}}},
  {"data": {"name": "pt"}, "mark": {"type": "text", "align": "left", "baseline": "middle", "fontSize": 4, "color": "#ffe8e8"},
   "encoding": {"x": {"field": "i", "type": "quantitative", "axis": null}, "y": {"field": "r", "type": "quantitative", "axis": null}, "text": {"field": "t"}}}
 ]
}
]
}
